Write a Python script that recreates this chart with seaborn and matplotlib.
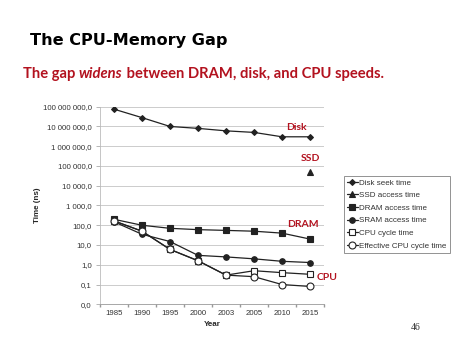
import numpy as np
import pandas as pd
import matplotlib
matplotlib.use('Agg')
import matplotlib.pyplot as plt
from matplotlib.ticker import FuncFormatter, FixedLocator
import seaborn as sns

years = ["1985", "1990", "1995", "2000", "2003", "2005", "2010", "2015"]
disk = [75000000, 28000000, 10000000, 8000000, 6000000, 5000000, 3000000, 3000000]
ssd = [np.nan, np.nan, np.nan, np.nan, np.nan, np.nan, np.nan, 50000]
dram = [200, 100, 70, 60, 55, 50, 40, 20]
sram = [150, 35, 15, 3, 2.5, 2, 1.5, 1.3]
cpu = [166, 50, 6, 1.6, 0.30, 0.50, 0.4, 0.33]
eff_cpu = [166, 50, 6, 1.6, 0.30, 0.25, 0.10, 0.08]

series = [
    ("Disk seek time", disk, "D", 3, "#222222"),
    ("SSD access time", ssd, "^", 4, "#222222"),
    ("DRAM access time", dram, "s", 4, "#222222"),
    ("SRAM access time", sram, "o", 4, "#222222"),
    ("CPU cycle time", cpu, "s", 5, "white"),
    ("Effective CPU cycle time", eff_cpu, "o", 5, "white"),
]

RED = "#B3121F"
W, H = 474, 355

sns.set_theme(style="white")
plt.rcParams['font.family'] = ['Liberation Sans', 'DejaVu Sans']

fig = plt.figure(figsize=(W / 100, H / 100), dpi=100)
ax = fig.add_axes([100 / W, 1 - 304.3 / H, 224 / W, (304.3 - 106.7) / H])

pos = np.arange(len(years))
for name, vals, mk, ms, fc in series:
    df = pd.DataFrame({"x": pos, "t": vals}).dropna()
    sns.lineplot(data=df, x="x", y="t", ax=ax, color="#222222", lw=0.9,
                 marker=mk, markersize=ms, markerfacecolor=fc,
                 markeredgecolor="#222222", markeredgewidth=0.8, label=name)

ax.set_yscale("log")
ax.set_ylim(0.01, 1e8)
ax.set_xlim(-0.5, len(years) - 0.5)

def fmt(v, p):
    if v < 0.05:
        return "0,0"
    s = "{:,.1f}".format(v)
    return s.replace(",", " ").replace(".", ",")

ax.yaxis.set_major_locator(FixedLocator([10.0 ** k for k in range(-2, 9)]))
ax.yaxis.set_minor_locator(FixedLocator([]))
ax.yaxis.set_major_formatter(FuncFormatter(fmt))
ax.set_xticks(pos)
ax.set_xticklabels(years)
ax.set_xticks(np.arange(-0.5, len(years)), minor=True)
ax.tick_params(axis="x", which="major", length=0, labelsize=5.6, pad=4, colors="#333333")
ax.tick_params(axis="x", which="minor", length=2, color="#999999", bottom=True)
ax.tick_params(axis="y", which="major", length=3, width=0.6, color="#aaaaaa",
               labelsize=5.6, pad=3, labelcolor="#333333", left=True)
ax.grid(axis="y", color="#cccccc", lw=0.7)
ax.set_axisbelow(True)
for s in ["top", "right"]:
    ax.spines[s].set_visible(False)
ax.spines["left"].set_color("#bbbbbb")
ax.spines["left"].set_linewidth(0.6)
ax.spines["bottom"].set_color("#999999")
ax.spines["bottom"].set_linewidth(0.6)

ax.set_xlabel("Year", fontsize=5.8, fontweight="bold", labelpad=3)
ax.set_ylabel("Time (ns)", fontsize=5.8, fontweight="bold", labelpad=1)

leg = ax.legend(loc="upper left", bbox_to_anchor=(344 / W, 1 - 175.7 / H),
                bbox_transform=fig.transFigure, fontsize=5.8, frameon=True,
                fancybox=False, edgecolor="#777777", handlelength=1.3,
                handletextpad=0.2, labelspacing=0.62, borderpad=0.4,
                borderaxespad=0)
leg.get_frame().set_linewidth(0.7)
for t in leg.get_texts():
    t.set_color("#333333")

def fx(x):
    return x / W

def fy(y):
    return 1 - y / H

fig.text(fx(30), fy(40), "The CPU-Memory Gap", fontsize=11.6, fontweight="bold",
         family=["DejaVu Sans"], va="center", ha="left", color="black")

t1 = fig.text(fx(23), fy(78), "The gap ", fontsize=10.6, fontweight="bold",
              family=["Lato", "DejaVu Sans"], color=RED, va="baseline")
t2 = fig.text(0, 0, "widens", fontsize=10.6, fontweight="bold", style="italic",
              family=["Lato", "DejaVu Sans"], color=RED, va="baseline")
t3 = fig.text(0, 0, " between DRAM, disk, and CPU speeds.", fontsize=10.6, fontweight="bold",
              family=["Lato", "DejaVu Sans"], color=RED, va="baseline")
fig.canvas.draw()
r = fig.canvas.get_renderer()
bb = t1.get_window_extent(r)
t2.set_position((bb.x1 / fig.bbox.width, t1.get_position()[1]))
bb = t2.get_window_extent(r)
t3.set_position((bb.x1 / fig.bbox.width, t1.get_position()[1]))

for txt, x, y in [("Disk", 296, 127), ("SSD", 310, 158), ("DRAM", 303, 224), ("CPU", 327, 277)]:
    fig.text(fx(x), fy(y), txt, fontsize=7.5, fontweight="bold",
             family=["Lato", "DejaVu Sans"], color=RED, ha="center", va="center")

fig.text(fx(416), fy(327), "46", fontsize=7, family=["Liberation Serif", "DejaVu Serif"],
         ha="center", va="center", color="#333333")

fig.savefig("out.png", dpi=100)
